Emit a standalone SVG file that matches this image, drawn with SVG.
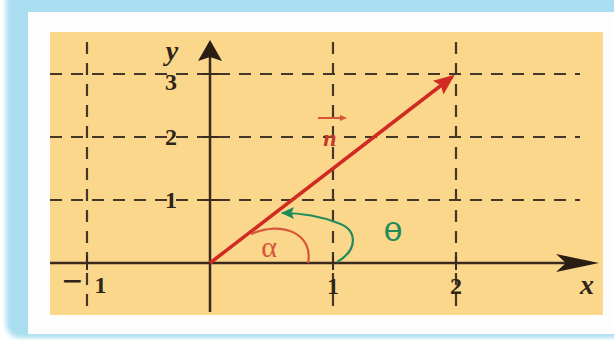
<svg xmlns="http://www.w3.org/2000/svg" width="614" height="340" viewBox="0 0 614 340">
<style>
.grid{stroke:#45362a;stroke-width:2.2;stroke-dasharray:12 9;fill:none}
.axis{stroke:#3a2a1e;stroke-width:2.5;fill:none}
.tick{stroke:#3a2a1e;stroke-width:2;fill:none}
.num{font-family:"Liberation Serif",serif;font-weight:bold;font-size:24px;fill:#2e2418}
.var{font-family:"Liberation Serif",serif;font-weight:bold;font-style:italic;font-size:28px;fill:#2e2418}
</style>
<defs>
<filter id="soft" x="-5%" y="-5%" width="110%" height="110%"><feGaussianBlur stdDeviation="2.5"/></filter>
<marker id="redHead" markerWidth="6" markerHeight="5" refX="5" refY="2.5" orient="auto" markerUnits="strokeWidth">
<path d="M0,0 L6,2.5 L0,5 L1,2.5 Z" fill="#d02a22"/>
</marker>
<marker id="greenHead" markerWidth="14" markerHeight="12" refX="12" refY="6" orient="auto" markerUnits="userSpaceOnUse">
<path d="M0,0 L13,6 L0,12 L2.5,6 Z" fill="#1f8a5a"/>
</marker>
</defs>
<g id="frame">
<rect x="6" y="-12" width="640" height="350" rx="14" fill="#a8def0" filter="url(#soft)"/>
<rect x="28" y="12" width="600" height="322" fill="#fdfdfd"/>
<rect x="50" y="32" width="553" height="283" fill="#fad78b"/>
</g>
<g id="grid">
<line class="grid" x1="87" y1="42" x2="87" y2="308"/>
<line class="grid" x1="333" y1="42" x2="333" y2="308"/>
<line class="grid" x1="456" y1="42" x2="456" y2="308"/>
<line class="grid" x1="50" y1="74" x2="580" y2="74"/>
<line class="grid" x1="50" y1="137" x2="580" y2="137"/>
<line class="grid" x1="50" y1="200" x2="580" y2="200"/>
</g>
<g id="axes">
<line class="axis" x1="50" y1="263" x2="585" y2="263"/>
<path d="M599 263 L556 254 L566 263 L556 272 Z" fill="#2a1e14"/>
<line class="axis" x1="210" y1="312" x2="210" y2="55"/>
<path d="M210 40 L222 61 L210 57 L198 61 Z" fill="#2a1e14"/>
<line class="tick" x1="202" y1="74" x2="218" y2="74"/>
<line class="tick" x1="202" y1="137" x2="218" y2="137"/>
<line class="tick" x1="202" y1="200" x2="218" y2="200"/>
<line class="tick" x1="87" y1="256" x2="87" y2="270"/>
<line class="tick" x1="333" y1="256" x2="333" y2="270"/>
<line class="tick" x1="456" y1="256" x2="456" y2="270"/>
</g>
<g id="labels">
<text class="var" x="172" y="60" text-anchor="middle">y</text>
<text class="var" x="587" y="294" text-anchor="middle">x</text>
<text class="num" x="171" y="90" text-anchor="middle">3</text>
<text class="num" x="171" y="145" text-anchor="middle">2</text>
<text class="num" x="171" y="208" text-anchor="middle">1</text>
<text class="num" x="62" y="293"><tspan font-size="36">−</tspan><tspan dx="12">1</tspan></text>
<text class="num" x="333" y="294" text-anchor="middle">1</text>
<text class="num" x="456" y="294" text-anchor="middle">2</text>
</g>
<g id="connectors">
<line x1="210" y1="263" x2="452" y2="77" stroke="#d02a22" stroke-width="3.5" marker-end="url(#redHead)"/>
<path d="M337 262 C358 250 358 230 338 223 C320 216 300 213 282 213" fill="none" stroke="#1f8a5a" stroke-width="2.2" marker-end="url(#greenHead)"/>
<path d="M251 234 C282 220 314 234 308 263" fill="none" stroke="#d8553a" stroke-width="2.2"/>
</g>
<g id="vector-label">
<line x1="318" y1="118" x2="344" y2="118" stroke="#d8553a" stroke-width="2"/>
<path d="M347 118 L340 115 L340 121 Z" fill="#d8553a"/>
<text x="330" y="146" text-anchor="middle" font-family="Liberation Serif, serif" font-style="italic" font-weight="bold" font-size="24" fill="#c8352a">n</text>
</g>
<g id="angle-labels">
<text x="269" y="257" text-anchor="middle" font-family="Liberation Serif, serif" font-size="30" fill="#d8553a">α</text>
<text x="393" y="241" text-anchor="middle" font-family="DejaVu Sans, sans-serif" font-size="25" fill="#1f8a5a" transform="translate(393 0) scale(1.25 1) translate(-393 0)">θ</text>
</g>
</svg>
